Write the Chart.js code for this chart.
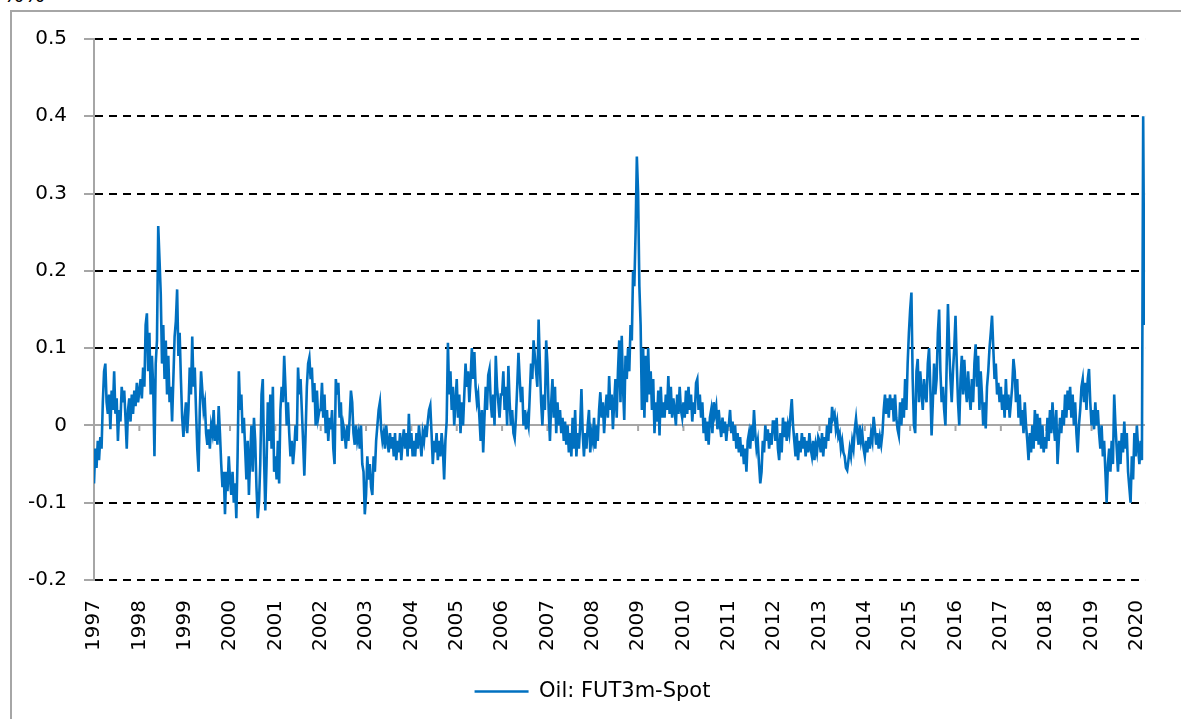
<!DOCTYPE html>
<html>
<head>
<meta charset="utf-8">
<script src="https://cdn.jsdelivr.net/npm/chart.js@4"></script>
<style>
  html, body { margin: 0; padding: 0; background: #fff; overflow: hidden; }
  #frame { position: absolute; left: 10px; top: 10px; width: 1300px; height: 800px;
           border-left: 2px solid #a6a6a6; border-top: 2px solid #a6a6a6; }
  #unit { position: absolute; left: 3px; top: -16px; font: 22px 'DejaVu Sans', sans-serif; line-height: 22px; color: #000; }
  #chart { position: absolute; left: 0; top: 0; }
</style>
</head>
<body>
<div id="frame"></div>
<div id="unit">%%</div>
<canvas id="chart" width="1181" height="719"></canvas>
<script>
const seriesName = 'Oil: FUT3m-Spot';
const samplesPerYear = 36;
const tickYears = [1997, 1998, 1999, 2000, 2001, 2002, 2003, 2004, 2005, 2006, 2007, 2008,
                   2009, 2010, 2011, 2012, 2013, 2014, 2015, 2016, 2017, 2018, 2019, 2020];

// spread values, ~36 samples per year
const oil1997 = [-0.075,-0.03,-0.055,-0.02,-0.045,-0.015,-0.03,0.03,0.07,0.08,0.03,0.015,0.04,-0.005,0.045,0.02,0.07,0.015,0.035,-0.02,0.02,0.005,0.05,0.03,0.045,0.01,-0.03,0.02,0.035,0.005,0.04,0.015,0.045,0.025,0.055,0.03];
const oil1998 = [0.045,0.06,0.035,0.075,0.05,0.13,0.145,0.07,0.12,0.04,0.09,0.05,-0.04,0.08,0.11,0.258,0.215,0.17,0.08,0.13,0.06,0.11,0.04,0.09,0.03,0.05,0.005,0.06,0.115,0.135,0.176,0.09,0.12,0.06,0.01,-0.015];
const oil1999 = [0.01,0.03,-0.01,0.02,0.075,0.04,0.115,0.05,0.075,0.02,-0.03,-0.06,0.02,0.07,0.045,0.02,0.03,-0.01,-0.025,-0.005,-0.03,0.0,-0.01,0.02,-0.02,0.0,-0.025,0.025,-0.01,-0.05,-0.08,-0.06,-0.115,-0.06,-0.085,-0.04];
const oil2000 = [-0.07,-0.09,-0.06,-0.1,-0.075,-0.12,-0.04,0.07,0.02,0.04,-0.01,0.01,-0.03,-0.07,-0.02,-0.09,-0.04,0.0,-0.06,0.01,-0.02,-0.08,-0.12,-0.1,-0.05,0.04,0.06,-0.04,-0.11,-0.05,0.03,-0.02,0.04,-0.03,0.05,-0.06];
const oil2001 = [-0.04,-0.07,-0.02,-0.075,0.02,0.05,0.03,0.09,0.05,0.0,0.03,-0.01,-0.04,-0.02,-0.05,-0.03,0.0,-0.02,0.075,0.04,0.06,0.02,-0.02,-0.065,-0.01,0.05,0.08,0.088,0.06,0.075,0.03,0.055,0.0,0.045,0.01,0.02];
const oil2002 = [0.02,0.055,0.01,0.04,-0.01,0.02,-0.02,0.01,-0.005,0.02,-0.03,-0.05,0.06,0.04,0.055,0.01,0.03,-0.02,0.0,-0.01,-0.03,0.0,-0.02,0.01,0.045,0.03,-0.01,-0.025,0.0,-0.02,-0.01,-0.03,0.0,-0.05,-0.06,-0.115];
const oil2003 = [-0.09,-0.04,-0.07,-0.05,-0.08,-0.09,-0.04,-0.06,-0.02,0.0,0.02,0.03,-0.005,-0.02,-0.01,-0.03,0.0,-0.02,-0.035,-0.01,-0.03,-0.015,-0.04,-0.01,-0.045,-0.02,-0.035,-0.01,-0.045,-0.02,-0.005,-0.03,-0.01,-0.04,0.015,-0.03];
const oil2004 = [-0.01,-0.04,-0.02,-0.04,-0.01,-0.03,0.0,-0.02,-0.04,-0.01,-0.02,0.0,-0.015,0.005,0.02,0.026,-0.01,-0.05,-0.02,-0.035,-0.01,-0.045,-0.02,-0.04,-0.01,-0.03,-0.07,-0.02,0.005,0.107,0.04,0.07,0.02,0.05,0.0,0.03];
const oil2005 = [0.06,0.01,0.04,-0.01,0.03,0.0,0.04,0.08,0.05,0.07,0.03,0.06,0.1,0.06,0.095,0.05,0.03,0.04,0.01,-0.02,0.02,-0.035,0.01,0.05,0.02,0.065,0.073,0.03,0.01,0.04,0.0,0.09,0.05,0.03,0.01,0.04];
const oil2006 = [0.04,0.07,0.02,0.05,0.0,0.077,0.03,0.0,0.02,-0.01,-0.017,0.01,0.05,0.094,0.06,0.03,0.05,0.0,0.02,-0.005,0.01,0.0,0.04,0.08,0.06,0.11,0.09,0.07,0.05,0.137,0.08,0.03,0.0,0.04,0.02,0.11];
const oil2007 = [0.08,0.02,-0.02,0.03,0.06,0.01,0.05,-0.01,0.03,0.0,0.02,-0.01,0.01,-0.02,0.005,-0.025,0.0,-0.035,-0.01,-0.04,0.01,-0.03,0.02,-0.04,-0.01,-0.03,0.0,0.047,-0.01,-0.04,-0.01,-0.03,0.0,0.02,-0.035,-0.01];
const oil2008 = [-0.02,0.01,-0.03,0.0,-0.02,0.02,0.043,0.01,0.03,-0.01,0.02,0.04,0.01,0.064,0.02,0.04,-0.005,0.03,0.06,0.01,0.07,0.11,0.03,0.116,0.05,0.007,0.09,0.06,0.1,0.07,0.13,0.11,0.2,0.18,0.25,0.348];
const oil2009 = [0.3,0.18,0.13,0.02,0.1,0.01,0.09,0.03,0.1,0.04,0.07,0.02,0.06,-0.01,0.03,0.005,0.045,-0.013,0.05,0.01,0.03,0.01,0.04,0.02,0.064,0.015,0.05,0.01,0.035,0.02,0.0,0.04,0.015,0.05,0.02,0.01];
const oil2010 = [0.03,0.01,0.045,0.015,0.05,0.02,0.04,0.005,0.03,0.015,0.055,0.06,0.02,0.04,0.01,0.03,-0.01,0.01,-0.02,0.005,-0.025,0.01,0.02,-0.01,0.03,0.015,0.025,-0.005,0.02,0.0,-0.015,0.01,-0.01,0.005,-0.02,0.0];
const oil2011 = [0.0,0.02,-0.01,0.005,-0.02,0.0,-0.03,-0.01,-0.035,-0.015,-0.04,-0.025,-0.05,-0.03,-0.06,-0.02,-0.01,-0.03,0.0,-0.02,0.02,-0.01,-0.03,-0.02,-0.05,-0.075,-0.06,-0.02,-0.035,0.0,-0.02,-0.005,-0.03,-0.01,-0.025,0.005];
const oil2012 = [0.005,-0.02,0.01,-0.03,-0.045,-0.01,-0.035,0.01,-0.015,0.005,-0.02,0.0,-0.01,0.015,0.034,0.0,-0.02,-0.04,-0.01,-0.045,-0.02,-0.035,-0.01,-0.03,-0.015,-0.04,-0.02,-0.035,-0.01,-0.03,-0.04,-0.02,-0.045,-0.025,-0.035,-0.015];
const oil2013 = [-0.02,-0.035,-0.01,-0.04,-0.015,-0.03,0.0,-0.02,0.01,-0.01,0.024,0.01,0.015,-0.005,0.005,-0.015,-0.01,-0.03,-0.02,-0.035,-0.04,-0.055,-0.058,-0.045,-0.03,-0.04,-0.02,-0.03,-0.005,0.009,-0.01,-0.025,0.0,-0.02,-0.01,-0.03];
const oil2014 = [-0.04,-0.02,-0.035,-0.015,-0.03,-0.01,-0.02,0.011,-0.005,-0.025,-0.01,-0.03,-0.015,-0.025,-0.01,0.02,0.04,0.015,0.035,0.01,0.04,0.02,0.035,0.005,0.04,0.01,-0.005,-0.013,0.03,0.0,0.035,0.01,0.06,0.02,0.08,0.12];
const oil2015 = [0.15,0.172,0.06,0.0,-0.01,0.07,0.086,0.03,0.07,0.045,0.02,0.06,0.04,0.03,0.08,0.1,0.05,-0.013,0.03,0.08,0.04,0.06,0.12,0.15,0.07,0.03,0.05,0.02,0.0,0.08,0.157,0.1,0.06,0.03,0.07,0.1];
const oil2016 = [0.142,0.08,0.03,0.0,0.06,0.09,0.04,0.085,0.05,0.03,0.07,0.04,0.02,0.06,0.03,0.08,0.105,0.05,0.09,0.02,0.07,0.04,0.0,0.03,-0.004,0.05,0.07,0.1,0.12,0.142,0.1,0.06,0.08,0.04,0.055,0.03];
const oil2017 = [0.05,0.02,0.04,0.01,0.06,0.02,0.04,0.01,0.03,0.05,0.086,0.07,0.03,0.06,0.01,0.04,0.0,0.02,-0.01,0.03,0.0,-0.02,-0.045,-0.01,-0.035,0.0,-0.03,0.02,-0.02,0.015,-0.025,0.01,-0.03,0.0,-0.035,-0.015];
const oil2018 = [-0.03,0.01,-0.02,0.02,-0.01,0.03,0.0,-0.02,0.02,-0.05,-0.02,0.01,-0.01,0.02,0.0,0.04,0.01,0.045,0.02,0.05,0.01,0.04,0.0,0.03,-0.01,-0.035,0.0,0.02,0.05,0.06,0.03,0.055,0.02,0.06,0.073,0.03];
const oil2019 = [0.0,0.02,-0.005,0.03,0.0,0.02,-0.01,-0.03,0.0,-0.04,-0.02,-0.06,-0.1,-0.05,-0.03,-0.06,-0.02,-0.05,0.04,0.0,-0.03,-0.06,-0.02,-0.05,-0.01,-0.035,0.005,-0.03,-0.01,-0.06,-0.08,-0.1,-0.04,-0.07,-0.01,-0.04];
const oil2020 = [0.0,-0.03,-0.05,-0.02,-0.045,0.4,0.13];

const yearly = [oil1997, oil1998, oil1999, oil2000, oil2001, oil2002, oil2003, oil2004,
                oil2005, oil2006, oil2007, oil2008, oil2009, oil2010, oil2011, oil2012,
                oil2013, oil2014, oil2015, oil2016, oil2017, oil2018, oil2019, oil2020];

const points = [];
yearly.forEach((vals, k) => {
    vals.forEach((v, i) => points.push({ x: tickYears[k] + i / samplesPerYear, y: v }));
});

const fontFamily = "'DejaVu Sans', sans-serif";
const isZero = v => Math.abs(v) < 1e-9;

// gray axis line at zero with small year ticks, drawn under the series
const zeroAxis = {
    id: 'zeroAxis',
    beforeDatasetsDraw(chart) {
        const { ctx, chartArea, scales: { x, y } } = chart;
        const y0 = Math.round(y.getPixelForValue(0));
        ctx.save();
        ctx.strokeStyle = '#a6a6a6';
        ctx.lineWidth = 2;
        ctx.beginPath();
        ctx.moveTo(chartArea.left, y0);
        ctx.lineTo(chartArea.right, y0);
        tickYears.forEach(v => {
            const px = x.getPixelForValue(v);
            ctx.moveTo(px, y0);
            ctx.lineTo(px, y0 + 6);
        });
        ctx.stroke();
        ctx.restore();
    }
};

new Chart(document.getElementById('chart'), {
    type: 'line',
    data: {
        datasets: [{
            label: seriesName,
            data: points,
            borderColor: '#0070c0',
            backgroundColor: '#0070c0',
            borderWidth: 2.6,
            pointRadius: 0,
            tension: 0,
            fill: false
        }]
    },
    options: {
        responsive: false,
        animation: false,
        devicePixelRatio: 1,
        layout: { padding: { left: 20, right: 16, top: 39, bottom: 7 } },
        plugins: {
            tooltip: { enabled: false },
            legend: {
                position: 'bottom',
                labels: {
                    usePointStyle: true,
                    pointStyle: 'line',
                    pointStyleWidth: 54,
                    color: '#000',
                    padding: 10,
                    font: { family: fontFamily, size: 21 }
                }
            }
        },
        scales: {
            x: {
                type: 'linear',
                min: 1997,
                max: 2020.18,
                afterBuildTicks: s => { s.ticks = tickYears.map(v => ({ value: v })); },
                afterFit: s => { s.height = 91; },
                ticks: {
                    autoSkip: false,
                    minRotation: 90,
                    maxRotation: 90,
                    padding: 20,
                    color: '#000',
                    font: { family: fontFamily, size: 20 },
                    callback: v => String(v)
                },
                grid: { display: false, drawTicks: false },
                border: { display: false }
            },
            y: {
                min: -0.2,
                max: 0.5,
                afterFit: s => { s.width = 74; },
                ticks: {
                    stepSize: 0.1,
                    padding: 17,
                    color: '#000',
                    font: { family: fontFamily, size: 20 },
                    callback: v => String(Math.round(v * 10) / 10)
                },
                grid: {
                    color: c => isZero(c.tick ? c.tick.value : 1) ? 'rgba(0,0,0,0)' : '#000',
                    lineWidth: 2,
                    tickColor: '#a6a6a6',
                    tickLength: 10
                },
                border: { color: '#a6a6a6', width: 2, dash: [8, 6] }
            }
        }
    },
    plugins: [zeroAxis]
});
</script>
</body>
</html>
